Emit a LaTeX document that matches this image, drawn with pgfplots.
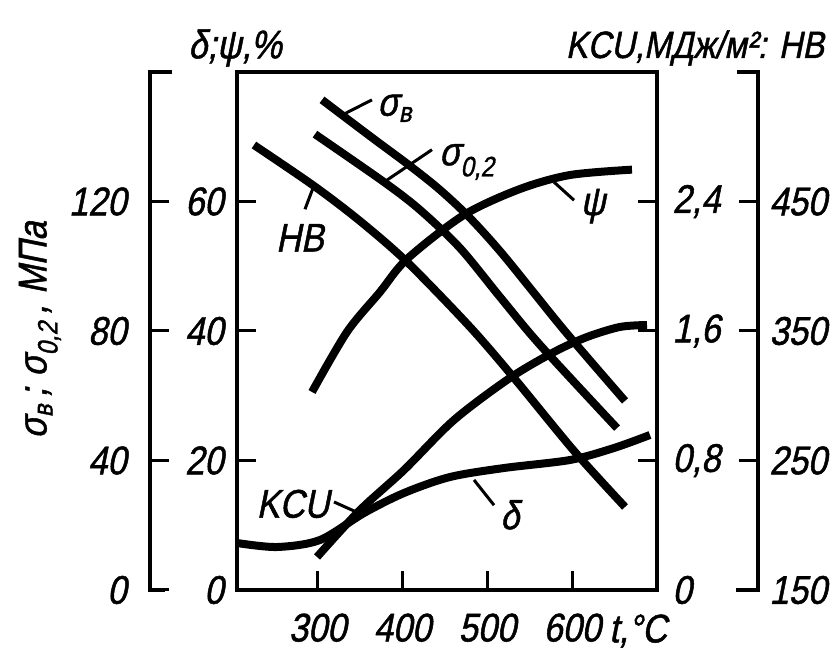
\documentclass[border=0pt]{standalone}
\usepackage{fontspec}
\setmainfont{Liberation Sans}[FakeSlant=0.2,FakeBold=1.2,FakeStretch=0.86]
\usepackage{pgfplots}
\pgfplotsset{compat=1.18}

\tikzset{
  curve/.style={black, line width=8pt, smooth, no marks},
  leader/.style={black, line width=3pt},
  tk/.style={black, line width=3pt},
  lbl/.style={font=\fontsize{40}{44}\selectfont, inner sep=0pt},
}
\pgfplotsset{
  base/.style={
    width=420pt, height=518pt, scale only axis,
    xmin=205, xmax=700,
    axis line style={line width=4.5pt},
    major tick style={black, line width=3pt},
    major tick length=19pt,
    tick align=inside,
    tick label style={font=\fontsize{40}{44}\selectfont},
    /pgf/number format/assume math mode=true,
  },
}

\begin{document}
\begin{tikzpicture}
% delta, psi in %
\begin{axis}[base, ymin=0, ymax=80,
  xtick={300,400,500,600}, xticklabels={300,400,500,600},
  ytick={0,20,40,60}, yticklabels={0,20,40,60},
  xtick pos=bottom, ytick pos=left,
  x tick label style={yshift=-20pt},
  y tick label style={xshift=-10pt}]
\addplot[curve] coordinates {
  (293.4,30.58) (334.6,39.85) (373.5,46.02) (405.4,51.12)
  (472.5,57.92) (538.5,61.93) (597.5,64.09) (670.5,64.92)};
\addplot[curve] coordinates {
  (205,7.26) (252.1,6.64) (302.8,7.72) (354.7,11.89) (401.8,14.98)
  (456.0,17.45) (519.7,18.84) (597.5,20.08) (649.3,21.93) (691.7,23.94)};
% curve labels
\node[lbl] at (axis cs:391,74.4) {σ\textsubscript{в}};
\draw[leader] (axis cs:331.1,73.5) -- (axis cs:364.1,75.7);
\node[lbl] at (axis cs:476,66.1) {σ\textsubscript{0,2}};
\draw[leader] (axis cs:378.3,63.0) -- (axis cs:434.8,68.0);
\node[lbl] at (axis cs:279.2,54.4) {HB};
\draw[leader] (axis cs:295.8,62.5) -- (axis cs:285.1,58.8);
\node[lbl] at (axis cs:624.6,59.3) {ψ};
\draw[leader] (axis cs:578.6,63.0) -- (axis cs:602.2,60.2);
\node[lbl] at (axis cs:271,13.3) {KCU};
\draw[leader] (axis cs:319.3,13.6) -- (axis cs:346.4,12.0);
\node[lbl] at (axis cs:526.7,11.6) {δ};
\draw[leader] (axis cs:484.3,17.0) -- (axis cs:507.9,13.1);
\end{axis}

% sigma in MPa
\begin{axis}[base, ymin=0, ymax=160,
  axis x line=none, axis y line*=left, axis y line shift=87pt,
  y tick label style={xshift=-20pt},
  ytick={0,40,80,120}, yticklabels={0,40,80,120}]
\addplot[curve] coordinates {
  (305.2,151.4) (361.7,140.2) (408.9,131.0) (444.2,123.6) (479.6,114.9)
  (519.7,103.2) (590.4,80.3) (662.3,58.4)};
\addplot[curve] coordinates {
  (296.9,140.8) (378.3,126.0) (420.7,117.4) (467.9,105.6) (515.0,90.5)
  (562.1,75.7) (652.9,50.0)};
\end{axis}

% KCU
\begin{axis}[base, ymin=0, ymax=3.2,
  axis x line=none, axis y line*=right,
  y tick label style={xshift=12pt},
  ytick={0,0.8,1.6,2.4}, yticklabels={0,{0,8},{1,6},{2,4}}]
\addplot[curve] coordinates {
  (299.3,0.204) (350.0,0.494) (401.8,0.741) (460.7,1.050) (526.7,1.310)
  (578.6,1.470) (617.5,1.563) (656.4,1.625) (688.2,1.637)};
\end{axis}

% HB
\begin{axis}[base, ymin=150, ymax=550,
  axis x line=none, axis y line*=right, axis y line shift=101pt,
  y tick label style={xshift=8pt},
  ytick={150,250,350,450}, yticklabels={150,250,350,450}]
\addplot[curve] coordinates {
  (225.0,493.6) (295.8,462.0) (350.0,434.9) (405.4,403.3) (479.6,353.1)
  (531.5,313.7) (602.2,257.4) (662.3,214.1)};
\end{axis}

% tick marks (box and the two outer scales)
\foreach \x in {80.6,165.5,250.3,335.2}
  \draw[tk] (\x pt,0pt) -- (\x pt,19pt);
\foreach \y in {129.5,259,388.5} {
  \draw[tk] (0pt,\y pt) -- (19pt,\y pt);
  \draw[tk] (420pt,\y pt) -- (401pt,\y pt);
  \draw[tk] (-87pt,\y pt) -- (-68pt,\y pt);
  \draw[tk] (521pt,\y pt) -- (502pt,\y pt);
}

% bracket ends
\draw[line width=4.5pt] (-65pt,518pt) -- (-87pt,518pt) -- (-87pt,0pt) -- (-72pt,0pt);
\draw[line width=4.5pt] (500pt,518pt) -- (521pt,518pt) -- (521pt,0pt) -- (499pt,0pt);

% axis titles
\node[lbl] at (-2pt,542pt) {δ;ψ,\%};
\node[lbl, font=\fontsize{38}{42}\selectfont] at (458pt,542pt) {KCU,МДж/м²: HB};
\node[lbl, rotate=90] at (-197pt,260pt) {σ\textsubscript{в}\,;\;σ\textsubscript{0,2}\,,\;МПа};
\node[lbl] at (401pt,-41pt) {t,°C};

\pgfresetboundingbox
\path (-237pt,-62pt) rectangle (601pt,590pt);
\end{tikzpicture}
\end{document}
